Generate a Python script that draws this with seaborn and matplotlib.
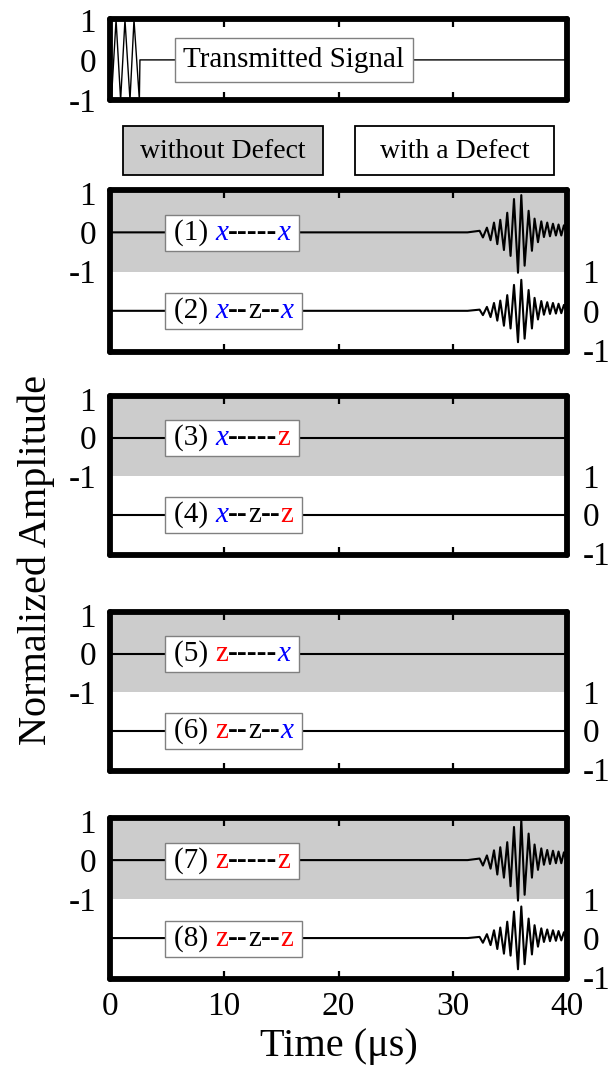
import matplotlib
matplotlib.use("Agg")
import matplotlib.pyplot as plt
import seaborn as sns
from matplotlib.patches import Rectangle
from matplotlib.transforms import Bbox

sns.set_style("white")
plt.rcParams["font.family"] = ["Liberation Serif", "DejaVu Serif"]
plt.rcParams.update({"text.color": "black", "xtick.color": "black",
                     "ytick.color": "black", "axes.labelcolor": "black"})

# ---- data (time in us, normalized amplitude) ----
t_tx = [0, 0.12, 0.53, 0.93, 1.31, 1.75, 2.10, 2.57, 2.62, 40]
amp_tx = [0, -1, 1, -1, 1, -1, 1, -1, 0, 0]

t_rx = [0, 31.3, 32.35, 32.64, 32.99, 33.31, 33.61, 33.90, 34.16, 34.48, 34.77,
        35.06, 35.36, 35.71, 36.00, 36.29, 36.64, 36.93, 37.16, 37.46, 37.75,
        37.98, 38.27, 38.51, 38.77, 39.03, 39.26, 39.50, 39.73, 39.96, 40.0]
amp_1 = [0, 0, 0.04, -0.13, 0.12, -0.2, 0.25, -0.3, 0.32, -0.45, 0.5, -0.6, 0.85,
         -1.03, 0.95, -0.85, 0.55, -0.47, 0.35, -0.25, 0.28, -0.12, 0.25, -0.1,
         0.22, -0.08, 0.2, -0.08, 0.18, 0.0, 0.0]
amp_2 = [0, 0, 0.03, -0.11, 0.1, -0.16, 0.2, -0.25, 0.26, -0.38, 0.4, -0.45, 0.66,
         -0.8, 0.79, -0.71, 0.53, -0.45, 0.33, -0.22, 0.25, -0.1, 0.22, -0.08,
         0.2, -0.07, 0.18, -0.06, 0.15, 0.0, 0.0]
amp_7 = [0, 0, 0.04, -0.14, 0.12, -0.22, 0.25, -0.37, 0.33, -0.45, 0.46, -0.67, 0.85,
         -1.04, 1.03, -0.89, 0.68, -0.45, 0.4, -0.25, 0.3, -0.12, 0.26, -0.1,
         0.24, -0.08, 0.22, -0.08, 0.2, 0.0, 0.0]
amp_8 = [0, 0, 0.03, -0.12, 0.1, -0.18, 0.2, -0.28, 0.27, -0.4, 0.42, -0.45, 0.68,
         -0.8, 0.81, -0.67, 0.5, -0.42, 0.33, -0.22, 0.25, -0.1, 0.22, -0.08,
         0.2, -0.07, 0.18, -0.06, 0.15, 0.0, 0.0]
t_flat = [0, 40]
amp_flat = [0, 0]

# (upper trace, lower trace) for each panel
traces = [((t_rx, amp_1), (t_rx, amp_2)),
          ((t_flat, amp_flat), (t_flat, amp_flat)),
          ((t_flat, amp_flat), (t_flat, amp_flat)),
          ((t_rx, amp_7), (t_rx, amp_8))]
paths = ["x-----x", "x--z--x", "x-----z", "x--z--z",
         "z-----x", "z--z--x", "z-----z", "z--z--z"]
x_ticks = [0, 10, 20, 30, 40]
left_ticks = [1, 0, -1]
tick_text = ["1", "0", "-1"]
legend_text = ["without Defect", "with a Defect"]

GRAY = "#cccccc"
W, H = 616, 1069
SPINE_W = 4.2


def style_axes(ax, ylim):
    ax.set_xlim(0, 40)
    ax.set_ylim(*ylim)
    ax.set_xticks(x_ticks)
    ax.set_yticks(left_ticks, tick_text)
    ax.tick_params(axis="x", direction="in", top=True, bottom=True,
                   length=6, width=1.6, color="black", labelbottom=False,
                   labelsize=24, pad=9)
    ax.tick_params(axis="y", length=0, labelsize=24, pad=10)
    for s in ax.spines.values():
        s.set_linewidth(SPINE_W)
        s.set_color("black")
        s.set_capstyle("round")
        s.set_joinstyle("round")
    ax.set_xlabel("")
    ax.set_ylabel("")


def end_part(ch):
    if ch == "x":
        return ch, dict(color="blue", style="italic")
    return ch, dict(color="red")


def rich_label(ax, y, num, path):
    dash = dict(color="black", weight="bold")
    parts = [(f"({num}) ", dict(color="black")), end_part(path[0])]
    if "z" in path[1:-1]:
        parts += [("--", dash), ("z", dict(color="black")), ("--", dash)]
    else:
        parts.append(("-----", dash))
    parts.append(end_part(path[-1]))
    texts = []
    s, kw = parts[0]
    prev = ax.text(5.6, y, s, va="center", ha="left", fontsize=21, zorder=5, **kw)
    texts.append(prev)
    for s, kw in parts[1:]:
        prev = ax.annotate(s, xy=(1, 0), xycoords=prev, va="bottom", ha="left",
                           fontsize=21, zorder=5, **kw)
        texts.append(prev)
    return texts


fig = plt.figure(figsize=(W / 100, H / 100), dpi=100)

# transmitted signal panel
ax0 = fig.add_axes([110 / W, 1 - 100 / H, 457 / W, 81 / H])
sns.lineplot(x=t_tx, y=amp_tx, ax=ax0, color="black", lw=1.0,
             estimator=None, sort=False, legend=False)
style_axes(ax0, (-1.0, 1.02))
ax0.text(16.1, 0, "Transmitted Signal", ha="center", va="center", fontsize=21,
         zorder=5, bbox=dict(boxstyle="square,pad=0.3", fc="white",
                             ec="#808080", lw=1.0))

# legend boxes
for (x0, x1), txt, fc in zip([(123, 323), (355, 554)], legend_text, [GRAY, "white"]):
    fig.patches.append(Rectangle((x0 / W, 1 - 175 / H), (x1 - x0) / W, 49 / H,
                                 transform=fig.transFigure, fc=fc, ec="black",
                                 lw=1.3))
    fig.text((x0 + x1) / 2 / W, 1 - 151 / H, txt, ha="center", va="center",
             fontsize=20)

panels = [(190, 352), (396, 555), (612, 771), (818, 979)]
axes = []
all_labels = []
for i, ((top, bot), (up, low)) in enumerate(zip(panels, traces)):
    ax = fig.add_axes([110 / W, 1 - bot / H, 457 / W, (bot - top) / H])
    ax.axhspan(-1, 3, color=GRAY, lw=0, zorder=0)
    sns.lineplot(x=up[0], y=up[1], ax=ax, color="black", lw=1.5,
                 estimator=None, sort=False, legend=False)
    sns.lineplot(x=low[0], y=[a - 2 for a in low[1]], ax=ax, color="black",
                 lw=1.5, estimator=None, sort=False, legend=False)
    for ln in ax.lines:
        ln.set_solid_joinstyle("round")
    style_axes(ax, (-3.05, 1.08))
    ax2 = ax.twinx()
    ax2.set_ylim(ax.get_ylim())
    ax2.set_yticks([-1, -2, -3], tick_text)
    ax2.tick_params(axis="y", length=0, labelsize=24, pad=11)
    for s in ax2.spines.values():
        s.set_visible(False)
    all_labels.append((ax, rich_label(ax, 0, 2 * i + 1, paths[2 * i])))
    all_labels.append((ax, rich_label(ax, -2, 2 * i + 2, paths[2 * i + 1])))
    axes.append(ax)

axes[-1].tick_params(axis="x", labelbottom=True)
axes[-1].set_xlabel("Time (\u03bcs)", fontsize=29, labelpad=4)
fig.text(36 / W, 1 - 560 / H, "Normalized Amplitude", rotation=90,
         ha="center", va="center", fontsize=29)

# white boxes behind the multi-colour labels
fig.canvas.draw()
for ax, texts in all_labels:
    bb = Bbox.union([t.get_window_extent() for t in texts])
    bb = Bbox([[bb.x0 - 9, bb.y0 - 5], [bb.x1 + 9, bb.y1 + 4]])
    (ax0_, ay0), (ax1_, ay1) = ax.transAxes.inverted().transform(bb.get_points())
    ax.add_patch(Rectangle((ax0_, ay0), ax1_ - ax0_, ay1 - ay0,
                           transform=ax.transAxes, fc="white", ec="#808080",
                           lw=1.0, zorder=4))

fig.savefig("out.png", dpi=100)
